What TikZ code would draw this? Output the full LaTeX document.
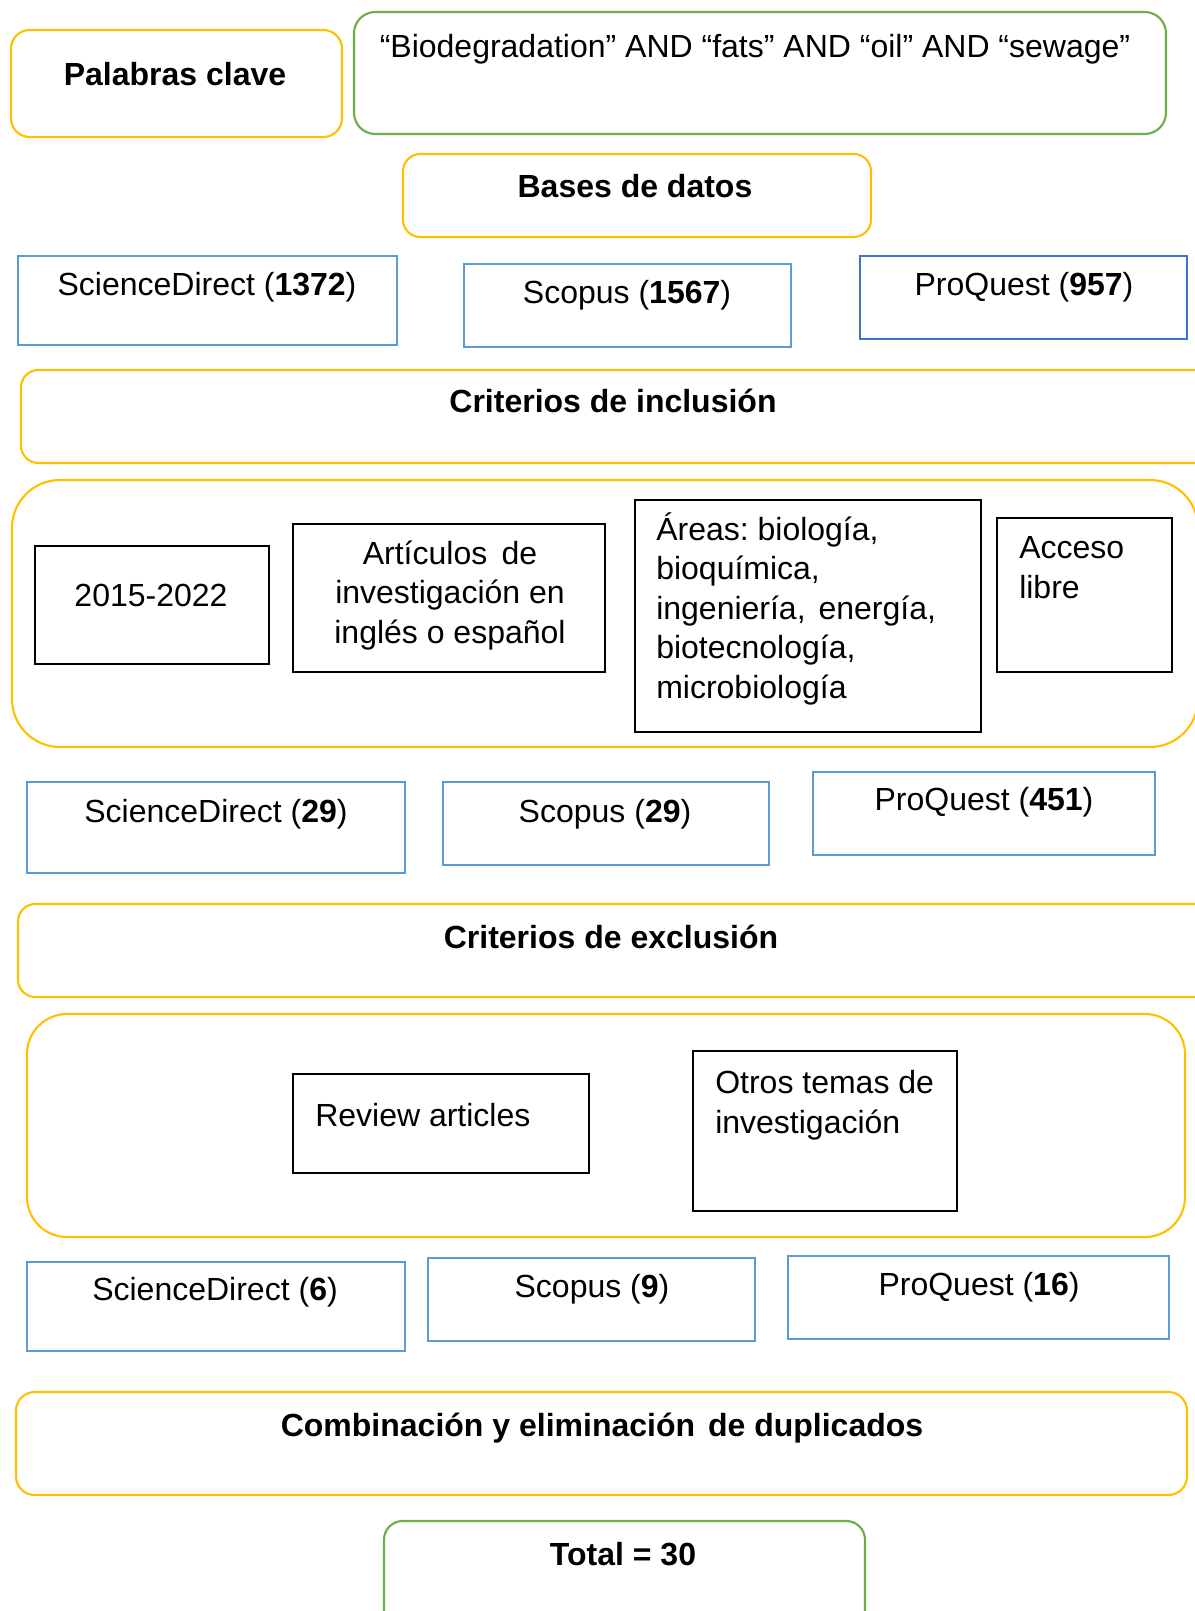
\documentclass[tikz,border=0pt]{standalone}
\usepackage{fontspec}
\setmainfont{Liberation Sans}
\usetikzlibrary{fit}
\definecolor{gold}{HTML}{FFC000}
\definecolor{leaf}{HTML}{70AD47}
\definecolor{sky}{HTML}{5B9BD5}
\definecolor{navy}{HTML}{4472C4}
\frenchspacing
\begin{document}
\begin{tikzpicture}[x=0.75pt,y=-0.75pt,
  ybox/.style={draw=gold, line width=1.6pt, inner sep=0pt},
  gbox/.style={draw=leaf, line width=1.6pt, inner sep=0pt},
  bbox/.style={draw=sky, line width=1.6pt, inner sep=0pt},
  nbox/.style={draw=navy, line width=1.6pt, inner sep=0pt},
  kbox/.style={draw=black, line width=1.8pt, inner sep=0pt},
  txt/.style={inner sep=0pt, font=\fontsize{24}{29.6}\selectfont\frenchspacing, anchor=base},
  ltxt/.style={txt, anchor=base west, align=left},
  ctxt/.style={txt, align=center}
]
\useasboundingbox (0,0) rectangle (1195,1611);
\clip (0,0) rectangle (1195,1611);

% top
\node[ybox, rounded corners=14pt, fit={(11,30) (342,137)}] (kw) {};
\node[txt] (kwt) at (175,85) {\textbf{Palabras clave}};
\node[gbox, rounded corners=16pt, fit={(354,12) (1166,134)}] (terms) {};
\node[txt] (termst) at (755,57) {“Biodegradation” AND “fats” AND “oil” AND “sewage”};
\node[ybox, rounded corners=13pt, fit={(403,154) (871,237)}] (db) {};
\node[txt] (dbt) at (635,197) {\textbf{Bases de datos}};

% first counts
\node[bbox, fit={(18,256) (397,345)}] (sd1) {};
\node[txt] (sd1t) at (207,295) {ScienceDirect (\textbf{1372})};
\node[bbox, fit={(464,264) (791,347)}] (sc1) {};
\node[txt] (sc1t) at (627,303) {Scopus (\textbf{1567})};
\node[nbox, fit={(860,256) (1187,339)}] (pq1) {};
\node[txt] (pq1t) at (1024,295) {ProQuest (\textbf{957})};

% inclusion
\node[ybox, rounded corners=13pt, fit={(21,370) (1215,463)}] (inc) {};
\node[txt] (inct) at (613,412) {\textbf{Criterios de inclusión}};
\node[ybox, rounded corners=36pt, fit={(12,480) (1198,747)}] (incg) {};
\node[kbox, fit={(35,546) (269,664)}] (yr) {};
\node[txt] (yrt) at (151,606) {2015-2022};
\node[kbox, fit={(293,524) (605,672)}] (art) {};
\node[ctxt] (artt) at (450,643) {Artículos\hspace{4pt} de\\investigación en\\inglés o español};
\node[kbox, fit={(635,500) (981,732)}] (area) {};
\node[ltxt] (areat) at (656,698) {Áreas: biología,\\bioquímica,\\ingeniería,\hspace{3pt} energía,\\biotecnología,\\microbiología};
\node[kbox, fit={(997,518) (1172,672)}] (acc) {};
\node[ltxt] (acct) at (1019,598) {Acceso\\libre};

% second counts
\node[bbox, fit={(27,782) (405,873)}] (sd2) {};
\node[txt] (sd2t) at (216,822) {ScienceDirect (\textbf{29})};
\node[bbox, fit={(443,782) (769,865)}] (sc2) {};
\node[txt] (sc2t) at (605,822) {Scopus (\textbf{29})};
\node[bbox, fit={(813,772) (1155,855)}] (pq2) {};
\node[txt] (pq2t) at (984,810) {ProQuest (\textbf{451})};

% exclusion
\node[ybox, rounded corners=13pt, fit={(18,904) (1215,997)}] (exc) {};
\node[txt] (exct) at (611,948) {\textbf{Criterios de exclusión}};
\node[ybox, rounded corners=30pt, fit={(27,1014) (1185,1237)}] (excg) {};
\node[kbox, fit={(293,1074) (589,1173)}] (rev) {};
\node[ltxt] (revt) at (315,1126) {Review articles};
\node[kbox, fit={(693,1051) (957,1211)}] (oth) {};
\node[ltxt] (otht) at (715,1133) {Otros temas de\\investigación};

% third counts
\node[bbox, fit={(27,1262) (405,1351)}] (sd3) {};
\node[txt] (sd3t) at (215,1300) {ScienceDirect (\textbf{6})};
\node[bbox, fit={(428,1258) (755,1341)}] (sc3) {};
\node[txt] (sc3t) at (592,1297) {Scopus (\textbf{9})};
\node[bbox, fit={(788,1256) (1169,1339)}] (pq3) {};
\node[txt] (pq3t) at (979,1295) {ProQuest (\textbf{16})};

% combination and total
\node[ybox, rounded corners=14pt, fit={(16,1392) (1187,1495)}] (comb) {};
\node[txt] (combt) at (602,1436) {\textbf{Combinación y eliminación\hspace{3pt} de duplicados}};
\node[gbox, rounded corners=14pt, fit={(384,1521) (865,1640)}] (tot) {};
\node[txt] (tott) at (623,1565) {\textbf{Total = 30}};
\end{tikzpicture}
\end{document}
